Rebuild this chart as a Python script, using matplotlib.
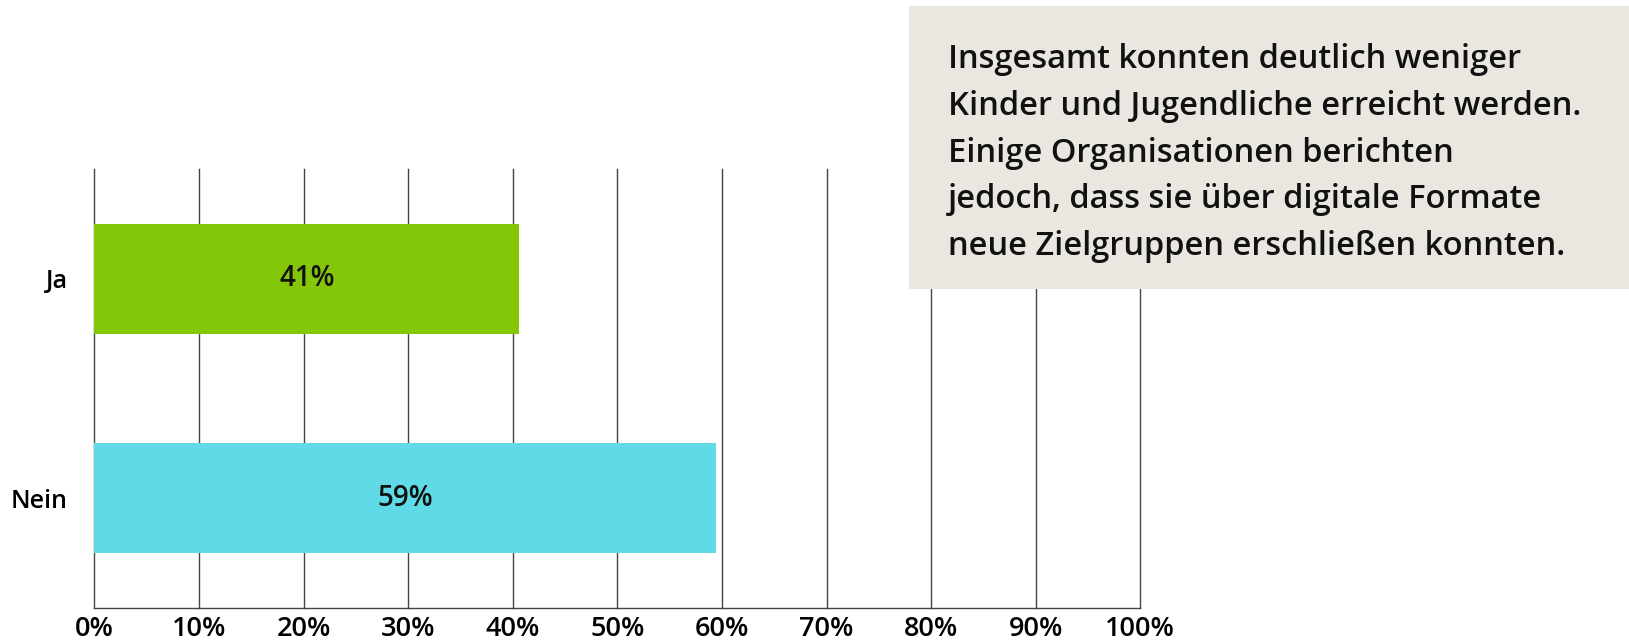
import numpy as np
import matplotlib
matplotlib.use("Agg")
from matplotlib import pyplot as plt
from matplotlib.patches import Rectangle

# data
categories = ["Ja", "Nein"]
values = [40.6, 59.4]
bar_colors = ["#84C608", "#5FDAE6"]
xticks = list(range(0, 101, 10))
xtick_labels = [str(t) + "%" for t in xticks]
note = ("Insgesamt konnten deutlich weniger\n"
        "Kinder und Jugendliche erreicht werden.\n"
        "Einige Organisationen berichten\n"
        "jedoch, dass sie über digitale Formate\n"
        "neue Zielgruppen erschließen konnten.")

plt.rcParams['font.family'] = ['Open Sans', 'DejaVu Sans']

fig = plt.figure(figsize=(16.29, 6.42), dpi=100)
ax = fig.add_axes([0.058, 0.053, 0.642, 0.684])

y = np.arange(len(categories))
ax.barh(y, values, height=0.5, color=bar_colors, zorder=2)
for yi, v in zip(y, values):
    ax.text(v / 2, yi, "%d%%" % round(v), ha='center', va='center',
            fontsize=20, fontweight='semibold', color='#111111', zorder=3)

ax.set_xlim(0, 100)
ax.set_ylim(1.5, -0.5)
ax.set_xticks(xticks)
ax.set_xticklabels(xtick_labels, fontsize=19.5, fontweight='semibold')
ax.set_yticks(y)
ax.set_yticklabels(categories, fontsize=18, fontweight='semibold')
ax.tick_params(axis='x', length=0, pad=5)
ax.tick_params(axis='y', length=0, pad=19)
ax.grid(axis='x', color='#444444', linewidth=1, zorder=1)
for gl in ax.get_xgridlines():
    gl.set_clip_on(False)
for s in ['top', 'right', 'left']:
    ax.spines[s].set_visible(False)
ax.spines['bottom'].set_color('#444444')
ax.spines['bottom'].set_linewidth(1)

# note box
fig.patches.append(Rectangle((0.558, 0.55), 0.45, 0.441, transform=fig.transFigure,
                             facecolor='#EAE7E0', edgecolor='none', zorder=5))
fig.text(0.582, 0.933, note, ha='left', va='top', fontsize=23.5,
         fontweight='semibold', linespacing=1.55, color='#111111', zorder=6)

fig.savefig("out.png", dpi=100)
